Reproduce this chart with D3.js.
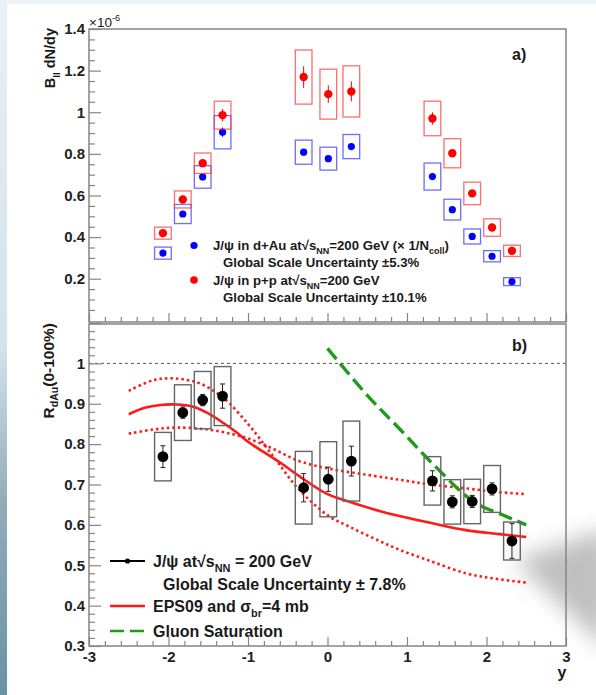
<!DOCTYPE html>
<html>
<head>
<meta charset="utf-8">
<script src="https://cdn.jsdelivr.net/npm/d3@7/dist/d3.min.js"></script>
<style>
  body { margin: 0; background: #fff; }
  svg { display: block; font-family: "Liberation Sans", Arial, Helvetica, sans-serif; }
</style>
</head>
<body>
<div id="chart"></div>
<script>
// rapidity bins, shared by both panels
const rapidity = [-2.07, -1.82, -1.57, -1.32, -0.30, 0.01, 0.30, 1.32, 1.57, 1.82, 2.07, 2.32];

// panel a) invariant yields (x 1e-6)
const ppYield = [0.419, 0.581, 0.755, 0.986, 1.169, 1.087, 1.100, 0.970, 0.803, 0.610, 0.446, 0.334];
const ppStat  = [0.012, 0.012, 0.014, 0.030, 0.052, 0.042, 0.048, 0.030, 0.016, 0.012, 0.010, 0.020];
const ppSys   = [0.029, 0.041, 0.049, 0.067, 0.130, 0.120, 0.123, 0.083, 0.070, 0.054, 0.042, 0.027];
const dAuYield = [0.323, 0.511, 0.689, 0.904, 0.808, 0.777, 0.835, 0.691, 0.532, 0.403, 0.308, 0.186];
const dAuStat  = [0.008, 0.010, 0.010, 0.022, 0.012, 0.012, 0.015, 0.010, 0.008, 0.006, 0.006, 0.006];
const dAuSys   = [0.029, 0.046, 0.054, 0.080, 0.058, 0.055, 0.058, 0.065, 0.050, 0.036, 0.027, 0.019];

// panel b) nuclear modification factor
const rdAu     = [0.769, 0.878, 0.909, 0.919, 0.692, 0.713, 0.758, 0.709, 0.657, 0.658, 0.689, 0.560];
const rdAuStat = [0.027, 0.014, 0.014, 0.030, 0.035, 0.030, 0.037, 0.025, 0.015, 0.015, 0.015, 0.043];
const rdAuSys  = [0.060, 0.069, 0.071, 0.073, 0.090, 0.093, 0.099, 0.060, 0.055, 0.055, 0.058, 0.047];

// model curves
const epsY       = [-2.5, -2.3, -2.1, -1.9, -1.7, -1.5, -1.3, -1.15, -1.0, -0.8, -0.6, -0.35, 0.0, 0.28, 0.7, 1.32, 1.74, 2.16, 2.5];
const epsCentral = [0.874, 0.890, 0.897, 0.898, 0.893, 0.876, 0.851, 0.830, 0.806, 0.780, 0.755, 0.720, 0.676, 0.657, 0.632, 0.604, 0.587, 0.577, 0.570];
const epsBandAY  = [-2.5, -2.2, -2.0, -1.8, -1.6, -1.3, -1.0, -0.8, -0.6, -0.37, 0.0, 0.28, 0.6, 0.91, 1.3, 1.74, 2.1, 2.5];
const epsBandA   = [0.932, 0.958, 0.963, 0.960, 0.950, 0.913, 0.850, 0.800, 0.748, 0.690, 0.624, 0.595, 0.565, 0.538, 0.510, 0.480, 0.467, 0.457];
const epsBandBY  = [-2.5, -2.2, -1.9, -1.5, -1.2, -1.0, -0.7, -0.37, 0.0, 0.5, 0.93, 1.3, 1.76, 2.1, 2.5];
const epsBandB   = [0.826, 0.836, 0.841, 0.836, 0.825, 0.814, 0.790, 0.759, 0.740, 0.724, 0.711, 0.700, 0.690, 0.682, 0.676];
const cgcY = [0.0, 0.5, 0.92, 1.34, 1.84, 2.2, 2.5];
const cgcR = [1.037, 0.921, 0.835, 0.748, 0.657, 0.625, 0.600];

const W = 596, H = 695;
const boxHalf = 0.105;   // half width of systematic boxes, in rapidity
const frameColor = '#858585';

const svg = d3.select('#chart').append('svg')
  .attr('width', W).attr('height', H);

// ---- slide background ----
const defs = svg.append('defs');
const edge = defs.append('linearGradient').attr('id', 'edge')
  .attr('x1', 0).attr('y1', 0).attr('x2', 0).attr('y2', 1);
[[0, '#e8f1f6'], [0.5, '#d2e3ea'], [0.72, '#93adb8'], [1, '#6892a4']].forEach(([o, c]) =>
  edge.append('stop').attr('offset', o).attr('stop-color', c));
defs.append('filter').attr('id', 'blur')
  .attr('x', '-50%').attr('y', '-50%').attr('width', '200%').attr('height', '200%')
  .append('feGaussianBlur').attr('stdDeviation', 11);

svg.append('rect').attr('width', W).attr('height', H).attr('fill', '#eef4f8');
svg.append('rect').attr('width', 7).attr('height', H).attr('fill', 'url(#edge)');
svg.append('rect').attr('x', 7).attr('y', 4).attr('width', W - 7).attr('height', H - 4).attr('fill', '#fff');
svg.append('path')
  .attr('d', 'M514,560 L610,528 L610,652 Z')
  .attr('fill', '#959595').attr('opacity', 0.6)
  .attr('filter', 'url(#blur)');

// ---- scales ----
const x = d3.scaleLinear().domain([-3, 3]).range([89, 566]);
const yTop = d3.scaleLinear().domain([-0.008, 1.4]).range([322, 29]);
const yBot = d3.scaleLinear().domain([0.3, 1.1]).range([646, 323]);
const boxW = x(boxHalf) - x(-boxHalf);

const minorX = d3.range(-3, 3.001, 0.2).filter(v => Math.abs(v - Math.round(v)) > 1e-6);

// inward ticks through d3 axes, domain path hidden (frame drawn separately)
function ticks(makeAxis, pos, major, minor, majorLen, minorLen, fmt, pad) {
  const gMin = svg.append('g').attr('transform', pos)
    .call(makeAxis().tickValues(minor).tickSize(-minorLen).tickFormat(''));
  const gMaj = svg.append('g').attr('transform', pos)
    .call(makeAxis().tickValues(major).tickSize(-majorLen).tickPadding(pad || 0)
      .tickFormat(fmt || (() => '')));
  [gMin, gMaj].forEach(g => {
    g.select('.domain').remove();
    g.selectAll('line').attr('stroke', frameColor).attr('stroke-width', 1.2);
    g.selectAll('text').attr('fill', '#222').style('font-size', '15px').style('font-weight', 'bold');
  });
  return gMaj;
}

// text with sub/superscripts: parts = [[text, 'sub'|'sup'|undefined], ...]
function rich(g, px, py, parts, size, opts = {}) {
  const t = g.append('text').attr('x', px).attr('y', py)
    .style('font-size', size + 'px').style('font-weight', opts.weight || 'bold')
    .attr('fill', '#1a1a1a');
  if (opts.anchor) t.attr('text-anchor', opts.anchor);
  if (opts.transform) t.attr('transform', opts.transform);
  let shift = 0;
  parts.forEach(([s, kind]) => {
    const want = kind === 'sub' ? size * 0.32 : kind === 'sup' ? -size * 0.42 : 0;
    const ts = t.append('tspan').attr('dy', want - shift).text(s);
    if (kind) ts.style('font-size', (size * 0.68) + 'px');
    shift = want;
  });
  return t;
}

const fmtTick = d => Math.abs(d - 1) < 1e-6 ? '1' : d3.format('.1f')(d);

// ================= panel a) =================
const gA = svg.append('g');

function yieldSeries(vals, stat, sys, color, boxColor, r) {
  const g = gA.append('g');
  g.selectAll('rect').data(vals).join('rect')
    .attr('x', (d, i) => x(rapidity[i] - boxHalf))
    .attr('width', boxW)
    .attr('y', (d, i) => yTop(d + sys[i]))
    .attr('height', (d, i) => yTop(d - sys[i]) - yTop(d + sys[i]))
    .attr('fill', 'none').attr('stroke', boxColor).attr('stroke-width', 1.3);
  g.selectAll('line.err').data(vals).join('line').attr('class', 'err')
    .attr('x1', (d, i) => x(rapidity[i])).attr('x2', (d, i) => x(rapidity[i]))
    .attr('y1', (d, i) => yTop(d - stat[i])).attr('y2', (d, i) => yTop(d + stat[i]))
    .attr('stroke', color).attr('stroke-width', 1);
  g.selectAll('circle').data(vals).join('circle')
    .attr('cx', (d, i) => x(rapidity[i])).attr('cy', d => yTop(d))
    .attr('r', r).attr('fill', color);
}
yieldSeries(dAuYield, dAuStat, dAuSys, '#0000ff', 'rgba(60,60,255,0.75)', 3.6);
yieldSeries(ppYield, ppStat, ppSys, '#ff0000', 'rgba(255,60,60,0.75)', 4.2);

// axes of panel a
ticks(() => d3.axisLeft(yTop), `translate(${x(-3)},0)`,
  [0.2, 0.4, 0.6, 0.8, 1.0, 1.2, 1.4],
  d3.range(0, 1.401, 0.05).filter(v => Math.abs(v / 0.2 - Math.round(v / 0.2)) > 1e-6),
  12, 6, fmtTick, 4);
ticks(() => d3.axisBottom(x), `translate(0,322)`, d3.range(-3, 3.01, 1), minorX, 9, 5, null, 0);
gA.append('rect').attr('x', 89).attr('y', 29).attr('width', 566 - 89).attr('height', 322 - 29)
  .attr('fill', 'none').attr('stroke', frameColor).attr('stroke-width', 1.5);

rich(gA, 89, 27, [['\u00d710'], ['-6', 'sup']], 13.5, { weight: 'normal' });
rich(gA, 0, 0, [['B'], ['ll', 'sub'], [' dN/dy']], 14.5,
  { anchor: 'end', transform: 'translate(55,28) rotate(-90)' });
gA.append('text').attr('x', 512).attr('y', 60).text('a)')
  .style('font-size', '16px').style('font-weight', 'bold').attr('fill', '#1a1a1a');

// legend a
const legA = gA.append('g');
legA.append('circle').attr('cx', 194).attr('cy', 245.5).attr('r', 3.6).attr('fill', '#0000ff');
legA.append('circle').attr('cx', 194).attr('cy', 280).attr('r', 3.8).attr('fill', '#ff0000');
rich(legA, 213, 250, [['J/\u03c8 in d+Au at\u221a'], ['s'], ['NN', 'sub'], ['=200 GeV (\u00d7 1/N'], ['coll', 'sub'], [')']], 13.2);
rich(legA, 223, 267, [['Global Scale Uncertainty \u00b15.3%']], 13.2);
rich(legA, 213, 284.5, [['J/\u03c8 in p+p at\u221a'], ['s'], ['NN', 'sub'], ['=200 GeV']], 13.2);
rich(legA, 223, 301.5, [['Global Scale Uncertainty \u00b110.1%']], 13.2);

// ================= panel b) =================
const gB = svg.append('g');

gB.append('line').attr('x1', 89).attr('x2', 566).attr('y1', yBot(1)).attr('y2', yBot(1))
  .attr('stroke', '#555').attr('stroke-width', 1).attr('stroke-dasharray', '3,3');

// model curves
const line = (xs, ys) => d3.line().curve(d3.curveCatmullRom.alpha(0.5))
  .x(i => x(xs[i])).y(i => yBot(ys[i]))(d3.range(xs.length));
gB.append('path').attr('d', line(epsBandAY, epsBandA)).attr('fill', 'none')
  .attr('stroke', '#ff1a1a').attr('stroke-width', 2.6).attr('stroke-dasharray', '2.5,3');
gB.append('path').attr('d', line(epsBandBY, epsBandB)).attr('fill', 'none')
  .attr('stroke', '#ff1a1a').attr('stroke-width', 2.6).attr('stroke-dasharray', '2.5,3');
gB.append('path').attr('d', line(epsY, epsCentral)).attr('fill', 'none')
  .attr('stroke', '#ff1a1a').attr('stroke-width', 2.6);
gB.append('path').attr('d', line(cgcY, cgcR)).attr('fill', 'none')
  .attr('stroke', '#1f9a1a').attr('stroke-width', 3.4).attr('stroke-dasharray', '14,6');

// data: systematic boxes, stat bars, points
gB.selectAll('rect.sys').data(rdAu).join('rect').attr('class', 'sys')
  .attr('x', (d, i) => x(rapidity[i] - boxHalf))
  .attr('width', boxW)
  .attr('y', (d, i) => yBot(d + rdAuSys[i]))
  .attr('height', (d, i) => yBot(d - rdAuSys[i]) - yBot(d + rdAuSys[i]))
  .attr('fill', 'none').attr('stroke', '#666').attr('stroke-width', 1.4);
const errB = gB.selectAll('g.err').data(rdAu).join('g').attr('class', 'err');
errB.append('line')
  .attr('x1', (d, i) => x(rapidity[i])).attr('x2', (d, i) => x(rapidity[i]))
  .attr('y1', (d, i) => yBot(d - rdAuStat[i])).attr('y2', (d, i) => yBot(d + rdAuStat[i]));
[-1, 1].forEach(s => errB.append('line')
  .attr('x1', (d, i) => x(rapidity[i]) - 2.5).attr('x2', (d, i) => x(rapidity[i]) + 2.5)
  .attr('y1', (d, i) => yBot(d + s * rdAuStat[i])).attr('y2', (d, i) => yBot(d + s * rdAuStat[i])));
errB.selectAll('line').attr('stroke', '#222').attr('stroke-width', 1);
gB.selectAll('circle').data(rdAu).join('circle')
  .attr('cx', (d, i) => x(rapidity[i])).attr('cy', d => yBot(d))
  .attr('r', 5.4).attr('fill', '#000');

// axes of panel b
ticks(() => d3.axisLeft(yBot), `translate(${x(-3)},0)`,
  d3.range(0.3, 1.101, 0.1),
  d3.range(0.3, 1.101, 0.02).filter(v => Math.abs(v / 0.1 - Math.round(v / 0.1)) > 1e-6),
  12, 6, d => d > 1.05 ? '' : fmtTick(d), 4);
ticks(() => d3.axisBottom(x), `translate(0,646)`, d3.range(-3, 3.01, 1), minorX, 9, 5,
  d => String(Math.round(d)), 5);
gB.append('rect').attr('x', 89).attr('y', 324).attr('width', 566 - 89).attr('height', 646 - 324)
  .attr('fill', 'none').attr('stroke', frameColor).attr('stroke-width', 1.5);

rich(gB, 0, 0, [['R'], ['dAu', 'sub'], ['(0-100%)']], 15.5,
  { anchor: 'end', transform: 'translate(53.5,323) rotate(-90)' });
gB.append('text').attr('x', 512).attr('y', 351).text('b)')
  .style('font-size', '16px').style('font-weight', 'bold').attr('fill', '#1a1a1a');
gB.append('text').attr('x', 562).attr('y', 678).attr('text-anchor', 'middle').text('y')
  .style('font-size', '16px').style('font-weight', 'bold').attr('fill', '#1a1a1a');

// legend b
const legB = gB.append('g');
legB.append('line').attr('x1', 110).attr('x2', 145).attr('y1', 561).attr('y2', 561)
  .attr('stroke', '#000').attr('stroke-width', 2);
legB.append('circle').attr('cx', 127.5).attr('cy', 561).attr('r', 2.6).attr('fill', '#000');
legB.append('line').attr('x1', 110).attr('x2', 145).attr('y1', 606).attr('y2', 606)
  .attr('stroke', '#ff1a1a').attr('stroke-width', 2.6);
legB.append('line').attr('x1', 110).attr('x2', 145).attr('y1', 631).attr('y2', 631)
  .attr('stroke', '#1f9a1a').attr('stroke-width', 2.6).attr('stroke-dasharray', '14,6');
rich(legB, 153, 566.5, [['J/\u03c8 at\u221a'], ['s'], ['NN', 'sub'], [' = 200 GeV']], 16);
rich(legB, 163, 590, [['Global Scale Uncertainty \u00b1 7.8%']], 16);
rich(legB, 153, 611.5, [['EPS09 and \u03c3'], ['br', 'sub'], ['=4 mb']], 16);
rich(legB, 153, 636.5, [['Gluon Saturation']], 16);
</script>
</body>
</html>
